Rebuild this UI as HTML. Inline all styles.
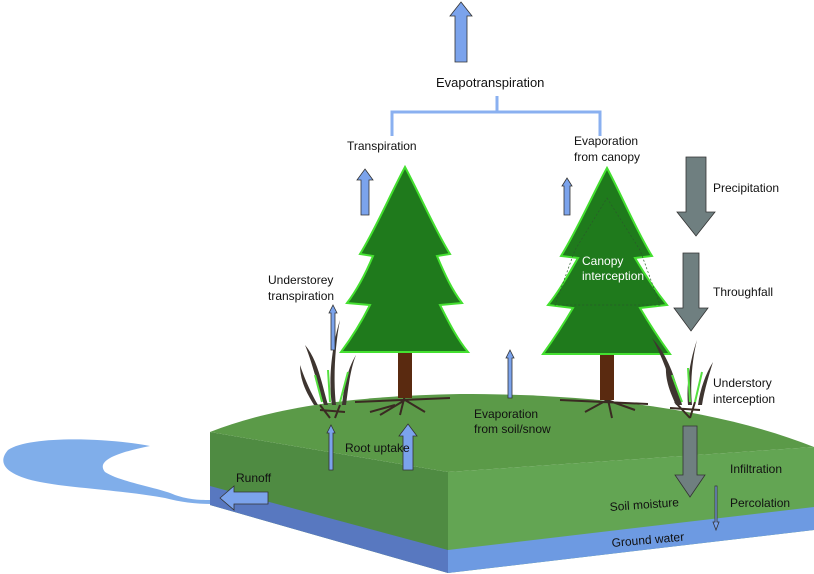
<!DOCTYPE html>
<html><head><meta charset="utf-8"><style>
html,body{margin:0;padding:0;background:#fff}
svg{display:block}
text{font-family:"Liberation Sans",sans-serif;font-size:12px;fill:#111}
</style></head><body>
<svg width="814" height="574" viewBox="0 0 814 574" xmlns="http://www.w3.org/2000/svg">
<!-- lake -->
<path d="M8,450 C30,435 110,438 150,446 C120,452 95,460 105,472 C120,482 160,488 175,495 C190,500 200,500 212,500 L212,504 C195,504 180,502 165,498 C120,490 70,488 40,482 C10,476 -5,465 8,450 Z" fill="#80aeea"/>
<!-- ground faces -->
<path d="M210,432 L448,472 L448,573 L210,505 Z" fill="#4f8b42"/>
<path d="M210,486 L448,550 L448,573 L210,505 Z" fill="#5878c0"/>
<path d="M448,472 L814,447 L814,530 L448,573 Z" fill="#63a553"/>
<path d="M448,550 L814,507 L814,530 L448,573 Z" fill="#6d9ae2"/>
<path d="M210,432 C280,405 360,396 460,394 C600,394 720,410 814,447 L448,472 Z" fill="#5b9a48"/>
<!-- roots -->
<g stroke="#3a2a22" stroke-width="2" fill="none">
<path d="M355,402 L450,398 M405,395 L400,415 M405,400 L380,415 M405,400 L425,412 M395,405 L370,412"/>
<path d="M560,400 L648,404 M607,395 L612,418 M607,400 L585,412 M607,400 L635,410"/>
<path d="M320,405 L330,418 M340,405 L335,418 M320,410 L345,412 M675,402 L690,418 M695,402 L690,418 M670,408 L700,410"/>
</g>
<!-- trunks -->
<rect x="398" y="350" width="14" height="48" fill="#5a2a10"/>
<rect x="600" y="352" width="14" height="48" fill="#5a2a10"/>
<!-- trees -->
<path d="M405,167 C420,195 435,230 450,254 L437,256 C445,275 452,290 462,303 L440,305 C450,325 458,340 468,352 L341,352 C350,340 360,325 370,305 L347,303 C357,290 365,275 373,256 L360,254 C375,230 390,195 405,167 Z" fill="#1f7a1c" stroke="#44e030" stroke-width="2"/>
<path d="M607,168 C622,196 637,232 652,256 L635,258 C645,275 655,290 667,305 L640,308 C650,325 660,340 670,354 L543,354 C553,340 563,325 573,308 L548,305 C560,290 568,275 578,258 L561,256 C576,232 592,196 607,168 Z" fill="#1f7a1c" stroke="#44e030" stroke-width="2"/>
<path d="M607,198 L640,250 L660,305 L555,305 L575,250 Z" fill="none" stroke="#2a5a2a" stroke-width="0.7" stroke-dasharray="2,2"/>
<text x="582" y="265" style="fill:#fff">Canopy</text>
<text x="582" y="280" style="fill:#fff">interception</text>
<!-- grass -->
<g fill="#3e3530">
<path d="M305,345 C318,360 322,385 328,405 L324,405 C316,380 312,362 305,345Z"/>
<path d="M340,320 C335,345 333,380 336,405 L332,405 C328,380 332,345 340,320Z"/>
<path d="M356,355 C350,370 348,390 346,405 L342,405 C344,385 348,368 356,355Z"/>
<path d="M300,365 C305,380 312,395 318,405 L314,405 C306,392 300,380 300,365Z"/>
<path d="M652,338 C668,355 676,380 682,405 L678,405 C670,380 664,360 652,338Z"/>
<path d="M697,340 C692,360 690,385 692,405 L688,405 C686,385 690,360 697,340Z"/>
<path d="M713,362 C708,378 704,392 702,405 L698,405 C700,390 705,375 713,362Z"/>
<path d="M666,365 C670,380 676,395 680,405 L676,405 C670,392 665,380 666,365Z"/>
</g>
<g stroke="#55e040" stroke-width="2" fill="none">
<path d="M315,375 L322,402 M328,370 L330,402 M348,372 L340,402"/>
<path d="M672,375 L682,402 M688,368 L690,402 M702,372 L695,402"/>
</g>
<!-- bracket -->
<g stroke="#8ab0f0" stroke-width="3" fill="none">
<path d="M392,136 L392,112 L600,112 L600,136 M497,112 L497,96"/>
</g>
<!-- blue arrows -->
<g fill="#7ba3ec" stroke="#333" stroke-width="0.8">
<path d="M461,2 L472,16 L467,16 L467,62 L455,62 L455,16 L450,16 Z"/>
<path d="M365,169 L373,180 L369,180 L369,215 L361,215 L361,180 L357,180 Z"/>
<path d="M567,178 L572,186 L570,186 L570,215 L564,215 L564,186 L562,186 Z"/>
<path d="M333,305 L337,313 L335,313 L335,350 L331,350 L331,313 L329,313 Z"/>
<path d="M510,350 L514,358 L512,358 L512,398 L508,398 L508,358 L506,358 Z"/>
<path d="M331,425 L335,433 L333,433 L333,470 L329,470 L329,433 L327,433 Z"/>
<path d="M408,424 L417,436 L413,436 L413,470 L403,470 L403,436 L399,436 Z"/>
<path d="M220,498 L234,486 L234,492 L268,492 L268,504 L234,504 L234,510 Z"/>
<path d="M716,530 L719,522 L717,522 L717,486 L715,486 L715,522 L713,522 Z"/>
</g>
<!-- gray arrows -->
<g fill="#6f7f80" stroke="#333" stroke-width="0.8">
<path d="M686,157 L706,157 L706,212 L715,212 L696,236 L677,212 L686,212 Z"/>
<path d="M683,253 L699,253 L699,308 L708,308 L691,331 L674,308 L683,308 Z"/>
<path d="M683,426 L697,426 L697,475 L705,475 L690,497 L675,475 L683,475 Z"/>
</g>
<!-- labels -->
<text x="436" y="87" style="font-size:13px">Evapotranspiration</text>
<text x="347" y="150">Transpiration</text>
<text x="574" y="145">Evaporation</text>
<text x="574" y="161">from canopy</text>
<text x="713" y="192">Precipitation</text>
<text x="713" y="296">Throughfall</text>
<text x="268" y="284">Understorey</text>
<text x="268" y="300">transpiration</text>
<text x="713" y="387">Understory</text>
<text x="713" y="403">interception</text>
<text x="474" y="418">Evaporation</text>
<text x="474" y="433">from soil/snow</text>
<text x="345" y="452">Root uptake</text>
<text x="236" y="482">Runoff</text>
<text x="730" y="473">Infiltration</text>
<text x="730" y="507">Percolation</text>
<text x="610" y="511" transform="rotate(-4 610 511)">Soil moisture</text>
<text x="612" y="547" transform="rotate(-5 612 547)">Ground water</text>
</svg>
</body></html>
